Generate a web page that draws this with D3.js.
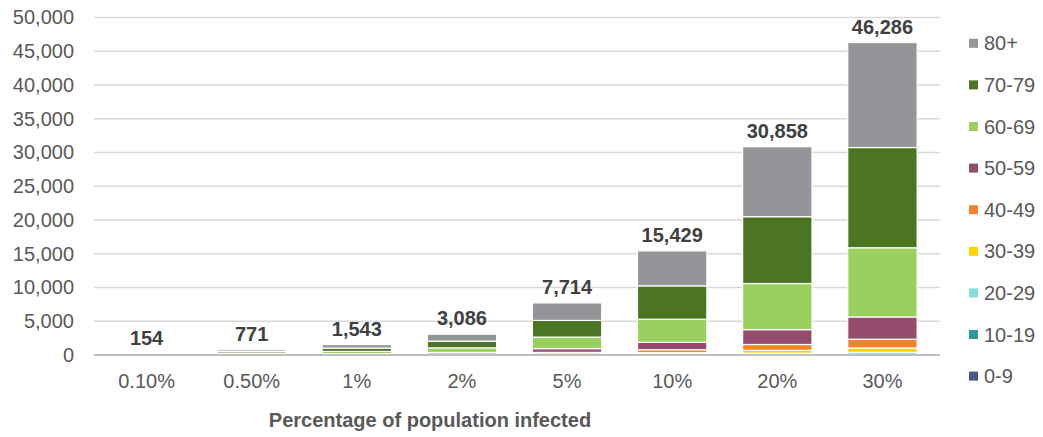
<!DOCTYPE html>
<html>
<head>
<meta charset="utf-8">
<script src="https://cdn.jsdelivr.net/npm/d3@7"></script>
<style>
  html, body { margin: 0; padding: 0; background: #ffffff; }
  svg { display: block; font-family: "Liberation Sans", Arial, sans-serif; }
</style>
</head>
<body>
<svg id="chart" width="1043" height="437"></svg>
<script>
// Share of population infected (x categories)
const categories = ["0.10%", "0.50%", "1%", "2%", "5%", "10%", "20%", "30%"];

// Age bands, bottom of the stack first
const ageGroups = ["0-9", "10-19", "20-29", "30-39", "40-49", "50-59", "60-69", "70-79", "80+"];

// Estimated deaths per age band for each infection scenario
const deaths0to9   = [0.1, 0.4, 1, 2, 5, 9, 18, 26];
const deaths10to19 = [0.2, 1, 2, 4, 10, 20, 40, 60];
const deaths20to29 = [1, 5, 10, 20, 50, 100, 200, 300];
const deaths30to39 = [2.2, 11, 22, 43, 108, 217, 433, 650];
const deaths40to49 = [4.3, 22, 43, 87, 216, 433, 867, 1300];
const deaths50to59 = [11, 55, 110, 220, 550, 1100, 2200, 3300];
const deaths60to69 = [34.2, 171, 342, 684, 1710, 3417, 6833, 10250];
const deaths70to79 = [49.5, 247, 495, 990, 2475, 4950, 9900, 14850];
const deaths80plus = [51.8, 259, 518, 1036, 2590, 5183, 10367, 15550];

// Y axis tick values
const yTicks = [0, 5000, 10000, 15000, 20000, 25000, 30000, 35000, 40000, 45000, 50000];

const seriesValues = [deaths0to9, deaths10to19, deaths20to29, deaths30to39, deaths40to49,
                      deaths50to59, deaths60to69, deaths70to79, deaths80plus];
const colors = ["#45598a", "#2c9a9b", "#84dcdc", "#ffd400", "#f6832b",
                "#964a6c", "#99d05e", "#4b7523", "#939598"];

// Rows for d3.stack
const rows = categories.map((c, i) => {
  const r = { category: c };
  ageGroups.forEach((g, k) => { r[g] = seriesValues[k][i]; });
  return r;
});
const totals = categories.map((c, i) => d3.sum(seriesValues, s => s[i]));

const svg = d3.select("#chart");
const textColor = "#595959";

const x = d3.scaleBand()
  .domain(categories)
  .range([94, 935])
  .paddingInner(0.34)
  .paddingOuter(0.17);

const y = d3.scaleLinear()
  .domain([0, 50000])
  .range([355, 17.5]);

const color = d3.scaleOrdinal().domain(ageGroups).range(colors);

// Horizontal gridlines
svg.append("g")
  .selectAll("line")
  .data(yTicks.filter(t => t > 0))
  .join("line")
  .attr("x1", 94).attr("x2", 940)
  .attr("y1", d => y(d)).attr("y2", d => y(d))
  .attr("stroke", "#d9d9d9")
  .attr("stroke-width", 1.5);

// Y axis labels
const yAxis = svg.append("g")
  .attr("transform", "translate(74,0)")
  .call(d3.axisLeft(y).tickValues(yTicks).tickFormat(d3.format(",")).tickSize(0).tickPadding(0));
yAxis.select(".domain").remove();
yAxis.selectAll("text")
  .attr("font-size", 20)
  .attr("font-family", "Liberation Sans, Arial, sans-serif")
  .attr("fill", textColor);

// Stacked bars
const stacked = d3.stack().keys(ageGroups)(rows);
svg.append("g")
  .selectAll("g")
  .data(stacked)
  .join("g")
  .attr("fill", d => color(d.key))
  .selectAll("rect")
  .data(d => d)
  .join("rect")
  .attr("x", d => x(d.data.category))
  .attr("width", x.bandwidth())
  .attr("y", d => y(d[1]))
  .attr("height", d => Math.max(0, y(d[0]) - y(d[1])))
  .attr("stroke", "#ffffff")
  .attr("stroke-width", 1.2);

// Baseline
svg.append("line")
  .attr("x1", 94).attr("x2", 940)
  .attr("y1", y(0)).attr("y2", y(0))
  .attr("stroke", "#bfbfbf")
  .attr("stroke-width", 2);

// X axis labels
const xAxis = svg.append("g")
  .attr("transform", "translate(0,373)")
  .call(d3.axisBottom(x).tickSize(0).tickPadding(0));
xAxis.select(".domain").remove();
xAxis.selectAll("text")
  .attr("font-size", 20)
  .attr("font-family", "Liberation Sans, Arial, sans-serif")
  .attr("fill", textColor)
  .attr("dy", "0.75em");

// Total labels above each stack
svg.append("g")
  .selectAll("text")
  .data(categories)
  .join("text")
  .attr("x", d => x(d) + x.bandwidth() / 2)
  .attr("y", (d, i) => y(totals[i]) - 9)
  .attr("text-anchor", "middle")
  .attr("font-size", 20)
  .attr("font-weight", "bold")
  .attr("fill", "#404040")
  .text((d, i) => d3.format(",.0f")(totals[i]));

// Axis title
svg.append("text")
  .attr("x", 430)
  .attr("y", 427)
  .attr("text-anchor", "middle")
  .attr("font-size", 20)
  .attr("font-weight", "bold")
  .attr("fill", textColor)
  .text("Percentage of population infected");

// Legend, oldest band on top
const legend = svg.append("g")
  .selectAll("g")
  .data(ageGroups.slice().reverse())
  .join("g")
  .attr("transform", (d, i) => `translate(969,${43.3 + i * 41.6})`);
legend.append("rect")
  .attr("x", 0).attr("y", -4.5)
  .attr("width", 9).attr("height", 9)
  .attr("fill", d => color(d));
legend.append("text")
  .attr("x", 15)
  .attr("dy", "0.35em")
  .attr("font-size", 20)
  .attr("fill", textColor)
  .text(d => d);
</script>
</body>
</html>
